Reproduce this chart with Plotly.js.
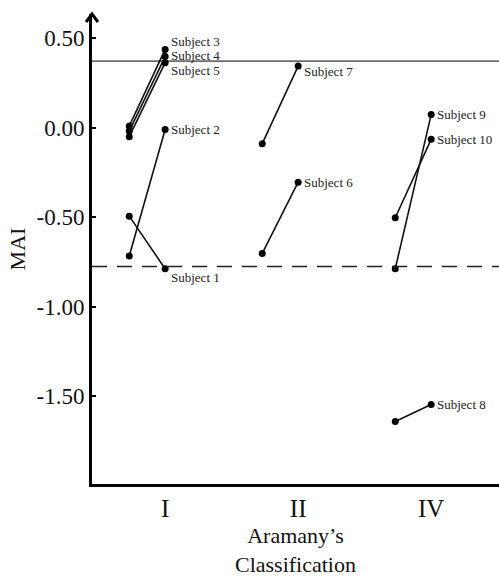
<!DOCTYPE html>
<html>
<head>
<meta charset="utf-8">
<script src="https://cdn.plot.ly/plotly-3.0.1.min.js"></script>
<style>html,body{margin:0;padding:0;background:#fff;}#chart{width:499px;height:577px;}</style>
</head>
<body>
<div id="chart"></div>
<script>
// ---- data ----
var categories = ["I", "II", "IV"];
var subjects = ["Subject 1", "Subject 2", "Subject 3", "Subject 4", "Subject 5",
                "Subject 6", "Subject 7", "Subject 8", "Subject 9", "Subject 10"];
var subjectGroup = ["I", "I", "I", "I", "I", "II", "II", "IV", "IV", "IV"];
var valueBefore = [-0.494, -0.717, 0.009, -0.019, -0.050, -0.702, -0.089, -1.641, -0.788, -0.503];
var valueAfter  = [-0.788, -0.010, 0.437, 0.397, 0.363, -0.304, 0.344, -1.546, 0.073, -0.065];
var upperRef = 0.372;
var lowerRef = -0.775;
var yTickVals = [0.5, 0, -0.5, -1, -1.5];
var yTickLabels = ["0.50", "0.00", "-0.50", "-1.00", "-1.50"];

// ---- styling helpers ----
var beforeOffset = -0.27;
var labelShift = {"Subject 1": -9, "Subject 3": 8, "Subject 4": 1, "Subject 5": -8, "Subject 7": -5};
var serif = "'Liberation Serif', 'Times New Roman', serif";

var traces = [];
var annotations = [];
subjects.forEach(function (s, i) {
  var ci = categories.indexOf(subjectGroup[i]);
  traces.push({
    type: "scatter", mode: "lines+markers",
    x: [ci + beforeOffset, ci], y: [valueBefore[i], valueAfter[i]],
    line: {color: "#111", width: 1.6},
    marker: {color: "#000", size: 7},
    name: s, showlegend: false, cliponaxis: false, hoverinfo: "skip"
  });
  annotations.push({
    x: ci, y: valueAfter[i], xref: "x", yref: "y",
    text: s, showarrow: false, xanchor: "left", yanchor: "middle",
    xshift: 4, yshift: labelShift[s] || 0,
    font: {family: serif, size: 13, color: "#222"}
  });
});

var layout = {
  width: 499, height: 577,
  margin: {l: 92, r: 0, t: 14, b: 93},
  paper_bgcolor: "#fff", plot_bgcolor: "#fff",
  showlegend: false,
  font: {family: serif, color: "#000"},
  xaxis: {
    range: [-0.55, 2.51], tickvals: [0, 1, 2], ticktext: categories,
    showgrid: false, zeroline: false, showline: true, linecolor: "#000", linewidth: 3,
    ticks: "", tickfont: {family: serif, size: 25, color: "#111"},
    title: {text: "Aramany\u2019s<br>Classification", font: {family: serif, size: 22, color: "#111"}, standoff: 18}
  },
  yaxis: {
    range: [-1.99, 0.635], tickvals: yTickVals, ticktext: yTickLabels,
    showgrid: false, zeroline: false, showline: true, linecolor: "#000", linewidth: 3,
    ticks: "inside", ticklen: 4, tickwidth: 2, tickcolor: "#000",
    tickfont: {family: serif, size: 23, color: "#111"},
    title: {text: "MAI", font: {family: serif, size: 22, color: "#111"}, standoff: 5}
  },
  shapes: [
    {type: "line", xref: "paper", x0: 0, x1: 1, yref: "y", y0: upperRef, y1: upperRef,
     line: {color: "#000", width: 1}},
    {type: "line", xref: "paper", x0: 0, x1: 1, yref: "y", y0: lowerRef, y1: lowerRef,
     line: {color: "#222", width: 1.5, dash: "15px,10px"}},
    {type: "path", xref: "paper", yref: "paper",
     path: "M -0.0147,0.983 L 0,1 L 0.0147,0.983",
     line: {color: "#000", width: 3}}
  ],
  annotations: annotations
};

Plotly.newPlot("chart", traces, layout, {displayModeBar: false, staticPlot: true});
</script>
</body>
</html>
